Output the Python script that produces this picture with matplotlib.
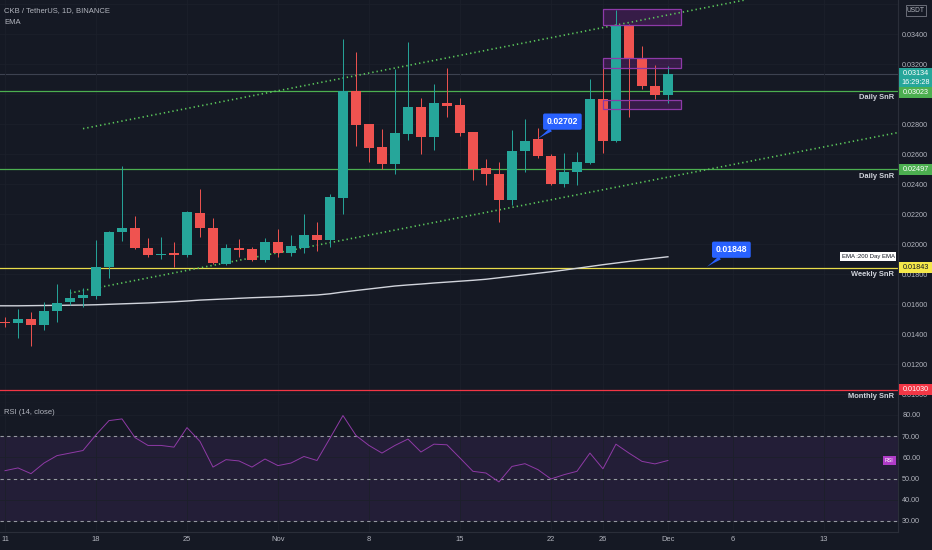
import matplotlib.pyplot as plt
import matplotlib.transforms as mtransforms
from matplotlib.patches import Rectangle
from matplotlib.ticker import FormatStrFormatter, FuncFormatter
import numpy as np
import pandas as pd

plt.rcParams['font.family'] = ['Liberation Sans', 'DejaVu Sans']

# CKB / USDT daily candles
start = pd.Timestamp('2021-10-11')
dates = pd.date_range(start, periods=52, freq='D')
opens = [0.01478, 0.01475, 0.01502, 0.01462, 0.01553, 0.01615, 0.01638, 0.01655, 0.01845, 0.02082,
         0.02109, 0.01973, 0.01930, 0.01940, 0.01925, 0.02209, 0.02109, 0.01867, 0.01973, 0.01967,
         0.01895, 0.02011, 0.01942, 0.01975, 0.02062, 0.02027, 0.02309, 0.03020, 0.02798, 0.02647,
         0.02533, 0.02733, 0.02913, 0.02715, 0.02938, 0.02929, 0.02745, 0.02505, 0.02469, 0.02293,
         0.02620, 0.02702, 0.02589, 0.02398, 0.02482, 0.02542, 0.02969, 0.02685, 0.03460, 0.03231,
         0.03053, 0.02993]
highs = [0.01515, 0.01565, 0.01549, 0.01615, 0.01733, 0.01698, 0.01705, 0.02027, 0.02084, 0.02520,
         0.02187, 0.02040, 0.02045, 0.02011, 0.02222, 0.02365, 0.02171, 0.02000, 0.02035, 0.01982,
         0.02038, 0.02100, 0.02062, 0.02202, 0.02145, 0.02333, 0.03367, 0.03278, 0.02800, 0.02765,
         0.03165, 0.03345, 0.02971, 0.03067, 0.03171, 0.02971, 0.02750, 0.02567, 0.02545, 0.02760,
         0.02833, 0.02771, 0.02602, 0.02605, 0.02611, 0.03100, 0.03175, 0.03560, 0.03465, 0.03320,
         0.03193, 0.03187]
lows = [0.01445, 0.01371, 0.01322, 0.01427, 0.01482, 0.01593, 0.01582, 0.01631, 0.01771, 0.02018,
        0.01970, 0.01915, 0.01898, 0.01849, 0.01916, 0.02045, 0.01868, 0.01860, 0.01915, 0.01885,
        0.01880, 0.01915, 0.01920, 0.01938, 0.01955, 0.01978, 0.02198, 0.02655, 0.02545, 0.02500,
        0.02465, 0.02693, 0.02600, 0.02627, 0.02845, 0.02720, 0.02427, 0.02393, 0.02149, 0.02260,
        0.02482, 0.02575, 0.02395, 0.02378, 0.02393, 0.02535, 0.02605, 0.02680, 0.02845, 0.03031,
        0.02967, 0.02938]
closes = [0.01472, 0.01502, 0.01462, 0.01555, 0.01609, 0.01642, 0.01660, 0.01844, 0.02082, 0.02107,
          0.01975, 0.01927, 0.01935, 0.01925, 0.02211, 0.02105, 0.01871, 0.01975, 0.01960, 0.01893,
          0.02011, 0.01942, 0.01985, 0.02062, 0.02027, 0.02313, 0.03020, 0.02793, 0.02642, 0.02533,
          0.02740, 0.02913, 0.02711, 0.02940, 0.02922, 0.02742, 0.02498, 0.02469, 0.02293, 0.02620,
          0.02689, 0.02589, 0.02402, 0.02480, 0.02549, 0.02967, 0.02685, 0.03460, 0.03231, 0.03053,
          0.02993, 0.03134]

# 200 day EMA (one value before the first candle, then one per candle)
ema_before = 0.01588
ema200 = [0.01588, 0.01588, 0.01589, 0.01590, 0.01591, 0.01592, 0.01593, 0.01595, 0.01598, 0.01601,
          0.01604, 0.01607, 0.01611, 0.01615, 0.01620, 0.01626, 0.01630, 0.01634, 0.01638, 0.01642,
          0.01645, 0.01648, 0.01652, 0.01656, 0.01660, 0.01668, 0.01680, 0.01690, 0.01700, 0.01710,
          0.01720, 0.01727, 0.01733, 0.01740, 0.01746, 0.01752, 0.01758, 0.01765, 0.01775, 0.01785,
          0.01795, 0.01805, 0.01815, 0.01826, 0.01838, 0.01850, 0.01862, 0.01873, 0.01884, 0.01895,
          0.01905, 0.01915]

rsi = [53.7, 55.0, 52.3, 57.3, 60.8, 62.0, 63.2, 70.6, 77.3, 78.1,
       69.3, 65.6, 65.6, 64.8, 74.0, 67.5, 55.4, 58.9, 58.3, 55.4,
       59.2, 56.1, 57.3, 60.4, 58.5, 69.0, 79.7, 70.3, 65.6, 62.0,
       65.6, 68.6, 62.5, 66.2, 65.9, 59.7, 53.4, 52.6, 48.4, 55.7,
       57.0, 54.2, 49.8, 51.8, 53.4, 62.0, 54.6, 66.2, 62.0, 58.1,
       56.9, 58.5]

snr_levels = [0.03023, 0.02497, 0.01843, 0.01030]
snr_names = ['Daily SnR', 'Daily SnR', 'Weekly SnR', 'Monthly SnR']

channel_upper_dates = ['2021-10-17', '2021-12-07']
channel_upper = [0.02769, 0.03628]
channel_lower_dates = ['2021-10-16', '2021-12-19']
channel_lower = [0.01673, 0.02748]

zone_dates = ['2021-11-26', '2021-12-02']
zone_bottoms = [0.03458, 0.03175, 0.02902]
zone_tops = [0.03565, 0.03238, 0.02960]

callout_dates = ['2021-11-21', '2021-12-04']
callout_values = [0.02702, 0.01848]

last_price = 0.03134
countdown = '16:29:28'

price_ticks = [0.010, 0.012, 0.014, 0.016, 0.018, 0.020, 0.022, 0.024, 0.026, 0.028,
               0.030, 0.032, 0.034, 0.036]
hidden_ticks = [0.030, 0.036]   # covered by the tags on the price scale

tick_dates = ['2021-10-11', '2021-10-18', '2021-10-25', '2021-11-01', '2021-11-08', '2021-11-15',
              '2021-11-22', '2021-11-26', '2021-12-01', '2021-12-06', '2021-12-13']
tick_labels = ['11', '18', '25', 'Nov', '8', '15', '22', '26', 'Dec', '6', '13']


def day(d):
    return (pd.Timestamp(d) - start).days


def price_fmt(v, pos):
    if any(abs(v - t) < 1e-7 for t in hidden_ticks):
        return ''
    return f'{v:.5f}'


bg = '#151924'
txt = '#b2b5be'
border = '#2a2e39'
up = '#26a69a'
down = '#ef5350'

x = np.array([(d - start).days for d in dates])
o = np.array(opens)
h = np.array(highs)
l = np.array(lows)
c = np.array(closes)

fig = plt.figure(figsize=(9.32, 5.5), dpi=100, facecolor=bg)
ax = fig.add_axes([0, 147 / 550, 898 / 932, 403 / 550], facecolor=bg)
axr = fig.add_axes([0, 18 / 550, 898 / 932, 129 / 550], facecolor=bg, sharex=ax)

# candles
cols = np.where(c >= o, up, down)
ax.vlines(x, l, h, colors=cols, lw=0.7, zorder=4)
body = np.maximum(np.abs(c - o), 0.00003)
ax.bar(x, body, bottom=np.minimum(o, c), width=0.75, color=cols, zorder=5)

# ema
ax.plot(np.r_[-1, x], np.r_[ema_before, ema200], color='#d1d4dc', lw=1.0, zorder=3)

# support / resistance lines
snr_colors = ['#4caf50', '#4caf50', '#e8dc4a', '#f23645']
for lvl, name, col in zip(snr_levels, snr_names, snr_colors):
    ax.axhline(lvl, color=col, lw=0.9, zorder=2)
    ax.annotate(name, xy=(0.9955, lvl), xycoords=('axes fraction', 'data'),
                xytext=(0, -4.8), textcoords='offset points', ha='right', va='center',
                fontsize=5.4, fontweight='bold', color='#d1d4dc', zorder=8)

ax.axhline(last_price, color='#3d4250', lw=0.8, zorder=1)

# channel
ax.plot([day(d) for d in channel_upper_dates], channel_upper, color='#5cc95c',
        lw=1.2, ls=(0, (0.8, 1.8)), zorder=3)
ax.plot([day(d) for d in channel_lower_dates], channel_lower, color='#5cc95c',
        lw=1.2, ls=(0, (0.8, 1.8)), zorder=3)

# zones
z0, z1 = day(zone_dates[0]), day(zone_dates[1])
for b, t in zip(zone_bottoms, zone_tops):
    ax.add_patch(Rectangle((z0, b), z1 - z0, t - b, fc='#9c27b0', alpha=0.25, ec='none', zorder=2))
    ax.add_patch(Rectangle((z0, b), z1 - z0, t - b, fc='none', ec='#8e3aa8', lw=0.9, zorder=6))

# callouts
for d, v in zip(callout_dates, callout_values):
    ax.annotate(f'{v:.5f}', xy=(day(d), v), xytext=(17.6, 12.3), textcoords='offset points',
                ha='center', va='center', fontsize=6.2, fontweight='bold', color='white',
                bbox=dict(boxstyle='round,pad=0.42,rounding_size=0.2', fc='#2962ff', ec='none'),
                arrowprops=dict(arrowstyle='wedge,tail_width=0.45,shrink_factor=0.4',
                                fc='#2962ff', ec='none', shrinkA=0, shrinkB=0),
                zorder=9)

ax.set_xlim(-0.385, 68.7)
ax.set_ylim(0.0094, 0.036267)
ax.set_yticks(price_ticks)
ax.yaxis.tick_right()
ax.yaxis.set_major_formatter(FuncFormatter(price_fmt))
ax.tick_params(axis='y', length=0, pad=3, labelsize=5.2, labelcolor=txt)
ax.tick_params(axis='x', length=0, labelbottom=False)
ax.set_xticks([day(d) for d in tick_dates])
ax.grid(color='#1c202b', lw=0.6, zorder=0)
for s in ['top', 'left']:
    ax.spines[s].set_visible(False)
for s in ['right', 'bottom']:
    ax.spines[s].set_color(border)

# right axis tags: value, height px, shift down px, fill, text colour, label
blend = mtransforms.blended_transform_factory(ax.transAxes, ax.transData)
px = 1 / 15000.0
tags = [(last_price, 19, 3.9, up, 'white', f'{last_price:.5f}\n{countdown}'),
        (snr_levels[0], 11, 2.3, '#4caf50', 'white', f'{snr_levels[0]:.5f}'),
        (snr_levels[1], 11, 0, '#4caf50', 'white', f'{snr_levels[1]:.5f}'),
        (snr_levels[2], 11, 0, '#f5e84a', '#131722', f'{snr_levels[2]:.5f}'),
        (snr_levels[3], 11, 0, '#f23645', 'white', f'{snr_levels[3]:.5f}')]
for yv, hh, sh, fc, tc, label in tags:
    yc = yv - sh * px
    ax.add_patch(Rectangle((1.0015, yc - hh / 2 * px), 0.0367, hh * px, transform=blend,
                           fc=fc, ec='none', clip_on=False, zorder=10))
    ax.text(1.0195, yc, label, transform=blend, ha='center', va='center', fontsize=5.2,
            color=tc, linespacing=1.3, zorder=11, clip_on=False)

ax.add_patch(Rectangle((1.0089, 0.035233), 0.0223, 11 * px, transform=blend,
                       fc=bg, ec='#787b86', lw=0.6, clip_on=False, zorder=10))
ax.text(1.020, 0.035233 + 5.5 * px, 'USDT', transform=blend, ha='center', va='center',
        fontsize=4.8, color=txt, zorder=11, clip_on=False)

# ema label
ax.add_patch(Rectangle((0.9355, ema200[-1] - 4.5 * px), 0.0623, 9 * px, transform=blend,
                       fc='white', ec='none', zorder=10))
ax.text(0.9667, ema200[-1], 'EMA :200 Day EMA', transform=blend, ha='center', va='center',
        fontsize=4.3, color='#131722', zorder=11)

fig.text(4 / 932, 1 - 11 / 550, 'CKB / TetherUS, 1D, BINANCE', fontsize=5.5, color=txt,
         va='center')
fig.text(4 / 932, 1 - 22 / 550, 'EMA', fontsize=5.5, color=txt, va='center')

# RSI pane
axr.axhspan(30, 70, color='#7b3fb0', alpha=0.14, lw=0)
for lv in [70, 50, 30]:
    axr.axhline(lv, color='#9598a1', lw=0.8, ls=(0, (3, 3)))
axr.plot(x, rsi, color='#8f3aa6', lw=0.7)
axr.set_ylim(24.8, 85.6)
axr.set_yticks([30, 40, 50, 60, 70, 80])
axr.yaxis.tick_right()
axr.yaxis.set_major_formatter(FormatStrFormatter('%.2f'))
axr.tick_params(axis='y', length=0, pad=3, labelsize=5.2, labelcolor=txt)
axr.set_xticks([day(d) for d in tick_dates])
axr.set_xticklabels(tick_labels)
axr.tick_params(axis='x', length=0, pad=3, labelsize=5.4, labelcolor=txt)
axr.grid(color='#1c202b', lw=0.6, zorder=0)
for s in ['top', 'left']:
    axr.spines[s].set_visible(False)
for s in ['right', 'bottom']:
    axr.spines[s].set_color(border)

rblend = mtransforms.blended_transform_factory(axr.transAxes, axr.transData)
axr.add_patch(Rectangle((0.9833, rsi[-1] - 1.9), 0.0145, 3.8, transform=rblend,
                        fc='#b03cc8', ec='none', zorder=10))
axr.text(0.9905, rsi[-1], 'RSI', transform=rblend, ha='center', va='center', fontsize=3.8,
         color='white', zorder=11)
fig.text(4 / 932, 1 - 413 / 550, 'RSI (14, close)', fontsize=5.5, color=txt, va='center')

fig.savefig('out.png', dpi=100, facecolor=bg)
